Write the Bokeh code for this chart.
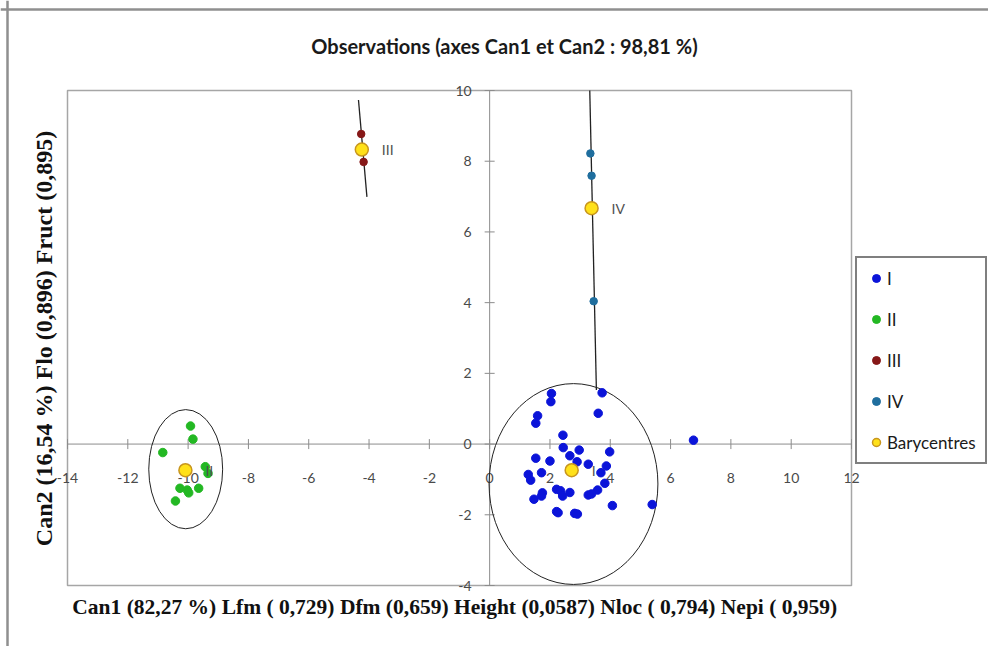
import math
from bokeh.plotting import figure
from bokeh.models import Legend, Span
from bokeh.core.properties import value
from bokeh.embed import file_html
from bokeh.resources import INLINE

# ---------------- data ----------------
g1_x = [2.05, 2.03, 3.73, 3.60, 1.59, 1.53, 2.43, 2.44, 2.97, 3.98, 2.66, 1.53, 2.00,
        2.90, 3.27, 3.87, 3.69, 1.28, 1.36, 1.72, 3.82, 3.58, 2.22, 2.35, 2.42, 2.66,
        1.75, 1.72, 3.27, 3.38, 1.47, 4.07, 2.22, 2.27, 2.82, 2.91, 5.39, 6.76]
g1_y = [1.43, 1.20, 1.45, 0.87, 0.80, 0.59, 0.25, -0.10, -0.17, -0.22, -0.33, -0.40, -0.48,
        -0.50, -0.57, -0.62, -0.81, -0.86, -1.02, -0.81, -1.11, -1.30, -1.28, -1.32, -1.47, -1.37,
        -1.38, -1.47, -1.44, -1.41, -1.56, -1.74, -1.91, -1.94, -1.96, -1.98, -1.71, 0.11]

g2_x = [-9.92, -9.84, -10.84, -9.43, -9.34, -10.27, -10.03, -9.98, -9.65, -10.42]
g2_y = [0.51, 0.14, -0.24, -0.64, -0.83, -1.25, -1.30, -1.38, -1.25, -1.61]

g3_x = [-4.26, -4.18]
g3_y = [8.77, 7.98]

g4_x = [3.34, 3.38, 3.45]
g4_y = [8.22, 7.59, 4.04]

bary_names = ["I", "II", "III", "IV"]
bary_x = [2.72, -10.09, -4.24, 3.38]
bary_y = [-0.74, -0.74, 8.33, 6.67]

# confidence ellipses (I, II) and degenerate ellipses (III, IV)
ell_x = [2.78, -10.08]
ell_y = [-1.13, -0.71]
ell_w = [5.6, 2.45]
ell_h = [5.68, 3.37]
seg_x0 = [-4.35, 3.32]
seg_y0 = [9.73, 10.0]
seg_x1 = [-4.07, 3.54]
seg_y1 = [6.99, 1.53]

x_ticks = [-14, -12, -10, -8, -6, -4, -2, 0, 2, 4, 6, 8, 10, 12]
y_ticks = [-4, -2, 0, 2, 4, 6, 8, 10]

title_text = "Observations (axes Can1 et Can2 : 98,81 %)"
x_title = "Can1 (82,27 %)  Lfm ( 0,729) Dfm (0,659) Height (0,0587) Nloc ( 0,794) Nepi ( 0,959)"
y_title = "Can2 (16,54 %) Flo (0,896) Fruct (0,895)"

# ---------------- layout (pixels) ----------------
W, H = 988, 646
BOX_L, BOX_R, BOX_T, BOX_B = 67, 851, 90, 585
xmin, xmax = x_ticks[0], x_ticks[-1]
ymin, ymax = y_ticks[0], y_ticks[-1]
sx = (BOX_R - BOX_L) / (xmax - xmin)
sy = (BOX_B - BOX_T) / (ymax - ymin)


def X(px):
    return xmin + (px - BOX_L) / sx


def Y(py):
    return ymax - (py - BOX_T) / sy


p = figure(width=W, height=H, x_range=(X(0), X(W)), y_range=(Y(H), Y(0)),
           output_backend="svg", toolbar_location=None,
           min_border_left=0, min_border_right=0, min_border_top=0, min_border_bottom=0)
p.xaxis.visible = False
p.yaxis.visible = False
p.xgrid.visible = False
p.ygrid.visible = False
p.outline_line_color = None
p.background_fill_color = "white"
p.border_fill_color = "white"

AX = "#8c8c8c"
# outer chart border (left and top visible)
p.add_layout(Span(location=X(7), dimension="height", line_color="#8f8f8f", line_width=2.5,
                  level="underlay"))
p.add_layout(Span(location=Y(9), dimension="width", line_color="#8f8f8f", line_width=2.5,
                  level="underlay"))

# plot area box
p.quad(left=[xmin], right=[xmax], bottom=[ymin], top=[ymax], fill_color=None,
       line_color="#a6a6a6", line_width=1.5)

# axes through zero
p.segment(x0=[0, xmin], y0=[ymin, 0], x1=[0, xmax], y1=[ymax, 0], line_color=AX, line_width=1)

# tick marks (crossing the axis lines)
tx = 5 / sx
ty = 5 / sy
p.segment(x0=x_ticks, y0=[-ty] * len(x_ticks), x1=x_ticks, y1=[ty] * len(x_ticks),
          line_color=AX, line_width=1)
p.segment(x0=[-tx] * len(y_ticks), y0=y_ticks, x1=[tx] * len(y_ticks), y1=y_ticks,
          line_color=AX, line_width=1)

# tick labels
p.text(x=x_ticks, y=[0] * len(x_ticks), text=[str(t) for t in x_ticks],
       y_offset=34, text_align="center", text_baseline="middle",
       text_font=value("Lato"), text_font_size="14px", text_color="#4a4a4a")
p.text(x=[0] * len(y_ticks), y=y_ticks, text=[str(t) for t in y_ticks],
       x_offset=-18, text_align="right", text_baseline="middle",
       text_font=value("Lato"), text_font_size="14px", text_color="#4a4a4a")

# ellipses
p.ellipse(x=ell_x, y=ell_y, width=ell_w, height=ell_h, fill_color=None,
          line_color="#222222", line_width=1)
p.segment(x0=seg_x0, y0=seg_y0, x1=seg_x1, y1=seg_y1, line_color="#222222", line_width=1.3)

# points
r1 = p.scatter(g1_x, g1_y, size=8.5, fill_color="#0B14D9", line_color="#0B14D9")
r2 = p.scatter(g2_x, g2_y, size=8.5, fill_color="#23B823", line_color="#23B823")
r3 = p.scatter(g3_x, g3_y, size=7.5, fill_color="#861818", line_color="#861818")
r4 = p.scatter(g4_x, g4_y, size=7.5, fill_color="#1F6E9E", line_color="#1F6E9E")
rb = p.scatter(bary_x, bary_y, size=13, fill_color="#FFE11A", line_color="#C8961E", line_width=1.5)

p.text(x=bary_x, y=bary_y, text=bary_names, x_offset=20, text_align="left",
       text_baseline="middle", text_font=value("Lato"), text_font_size="14px",
       text_color="#505050")

# titles
p.text(x=[X(504)], y=[Y(45)], text=[title_text], text_align="center", text_baseline="middle",
       text_font=value("Lato"), text_font_size="20px", text_font_style="bold",
       text_color="#1a1a1a")
p.text(x=[X(457)], y=[Y(606)], text=[x_title], text_align="center", text_baseline="middle",
       text_font=value("Liberation Serif"), text_font_size="21.5px", text_font_style="bold",
       text_color="#111111")
p.text(x=[X(43)], y=[Y(338)], text=[y_title], angle=math.pi / 2,
       text_align="center", text_baseline="middle",
       text_font=value("Liberation Serif"), text_font_size="24px", text_font_style="bold",
       text_color="#111111")

legend = Legend(items=[("I", [r1]), ("II", [r2]), ("III", [r3]), ("IV", [r4]),
                       ("Barycentres", [rb])],
                location=(855, H - 464), orientation="vertical")
legend.border_line_color = "black"
legend.border_line_width = 2
legend.background_fill_color = "white"
legend.background_fill_alpha = 1
legend.padding = 9
legend.margin = 0
legend.spacing = 19
legend.label_height = 22
legend.glyph_height = 22
legend.glyph_width = 20
legend.label_standoff = 1
legend.label_text_font = "Lato"
legend.label_text_font_size = "17px"
legend.label_text_color = "#1a1a1a"
p.add_layout(legend, "center")

open("out.html", "w").write(file_html(p, INLINE))
